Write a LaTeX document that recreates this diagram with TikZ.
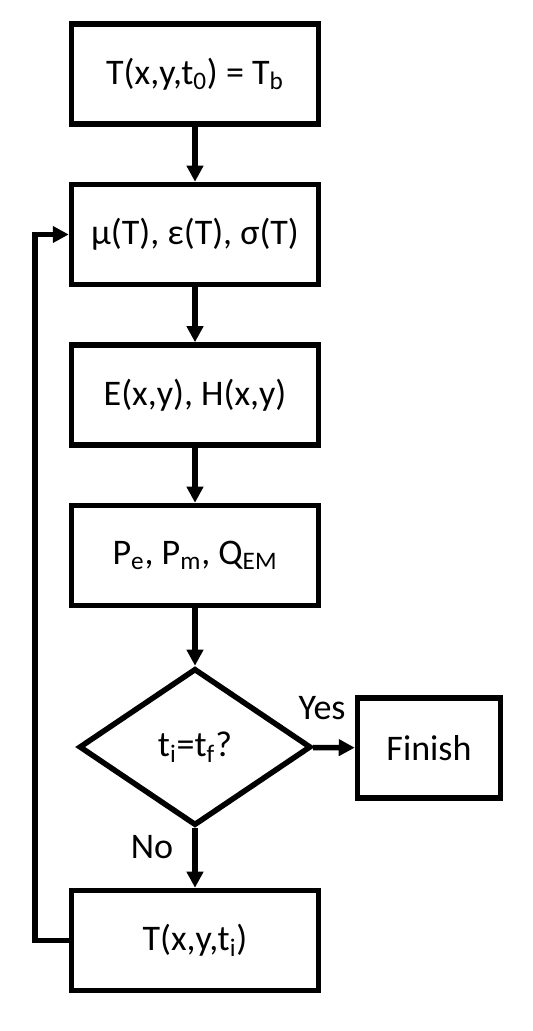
\documentclass[tikz,border=0pt]{standalone}
\usepackage{fontspec}
\setmainfont{Carlito}
\usetikzlibrary{arrows.meta}
\usetikzlibrary{shapes.geometric}

\tikzset{
	procbox/.style={draw, line width=0.11cm, minimum width=4.94cm, minimum height=2cm, inner sep=0pt, font=\fontsize{20.5}{24}\selectfont},
	decbox/.style={draw, diamond, line width=0.11cm, minimum width=4.64cm, minimum height=3.14cm, inner sep=0pt, font=\fontsize{20.5}{24}\selectfont},
	flow/.style={line width=0.11cm, -{Triangle[length=0.32cm,width=0.32cm]}},
	lbl/.style={font=\fontsize{20.5}{24}\selectfont},
}

\begin{document}
\begin{tikzpicture}
	\useasboundingbox (0,0) rectangle (10.64,20.62);
	\node[procbox] (init) at (3.9,19.14) {T(x,y,t\textsubscript{0}) = T\textsubscript{b}};
	\node[procbox] (props) at (3.9,15.93) {μ(T), ε(T), σ(T)};
	\node[procbox] (fields) at (3.9,12.72) {E(x,y), H(x,y)};
	\node[procbox] (losses) at (3.9,9.51) {P\textsubscript{e}, P\textsubscript{m}, Q\textsubscript{EM}};
	\node[decbox] (check) at (3.9,5.68) {t\textsubscript{i}=t\textsubscript{f}?};
	\node[procbox, minimum width=2.86cm] (finish) at (8.58,5.66) {Finish};
	\node[procbox] (tnext) at (3.9,1.81) {T(x,y,t\textsubscript{i})};
	\coordinate (loop) at (0.7,1.81); % return path
	\draw[flow] (init) -- (props);
	\draw[flow] (props) -- (fields);
	\draw[flow] (fields) -- (losses);
	\draw[flow] (losses) -- (check);
	\draw[flow] (check) -- (finish) ;
	\draw[flow] (check) -- (tnext);
	\draw[flow] (tnext.west) -- (loop) |- (props.west);
	\node[lbl] (yes) at (6.44,6.46) {Yes};
	\node[lbl] (no) at (3.04,3.68) {No};
\end{tikzpicture}
\end{document}
